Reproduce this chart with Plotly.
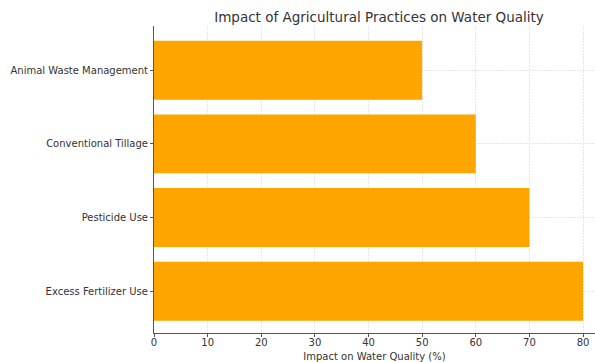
import plotly.graph_objects as go

categories = ["Excess Fertilizer Use", "Pesticide Use", "Conventional Tillage", "Animal Waste Management"]
values = [80, 70, 60, 50]
x_ticks = [0, 10, 20, 30, 40, 50, 60, 70, 80]

fig = go.Figure(go.Bar(
    y=categories, x=values, orientation="h",
    marker=dict(color="#FFA500", line=dict(width=0)),
    width=0.8,
))

font_fam = "DejaVu Sans"
fig.update_layout(
    width=595, height=362,
    margin=dict(l=154, r=0, t=26, b=29),
    paper_bgcolor="white", plot_bgcolor="white",
    font=dict(family=font_fam, size=10, color="#333333"),
    title=dict(text="Impact of Agricultural Practices on Water Quality",
               x=(154 + 604) / 2 / 595, xanchor="center", y=1 - 17 / 362, yanchor="middle",
               font=dict(size=13.5, color="#333333")),
    showlegend=False,
    bargap=0.2,
)
fig.update_xaxes(
    range=[0, (595 - 154) / 5.3625], tickvals=x_ticks,
    showgrid=True, gridcolor="#e6e6e6", griddash="2px,1px", gridwidth=0.8,
    showline=True, linecolor="#555555", linewidth=1,
    ticks="outside", ticklen=3, tickcolor="#555555",
    zeroline=False, automargin=False, ticklabelstandoff=-3,
    title=dict(text="Impact on Water Quality (%)", standoff=6, font=dict(size=10)),
)
fig.update_yaxes(
    range=[-0.567, 3.6],
    showgrid=True, gridcolor="#e6e6e6", griddash="2px,1px", gridwidth=0.8,
    showline=True, linecolor="#555555", linewidth=1,
    ticks="outside", ticklen=3, tickcolor="#555555",
    zeroline=False, automargin=False, ticklabelstandoff=0,
)
fig.write_html("out.html")
